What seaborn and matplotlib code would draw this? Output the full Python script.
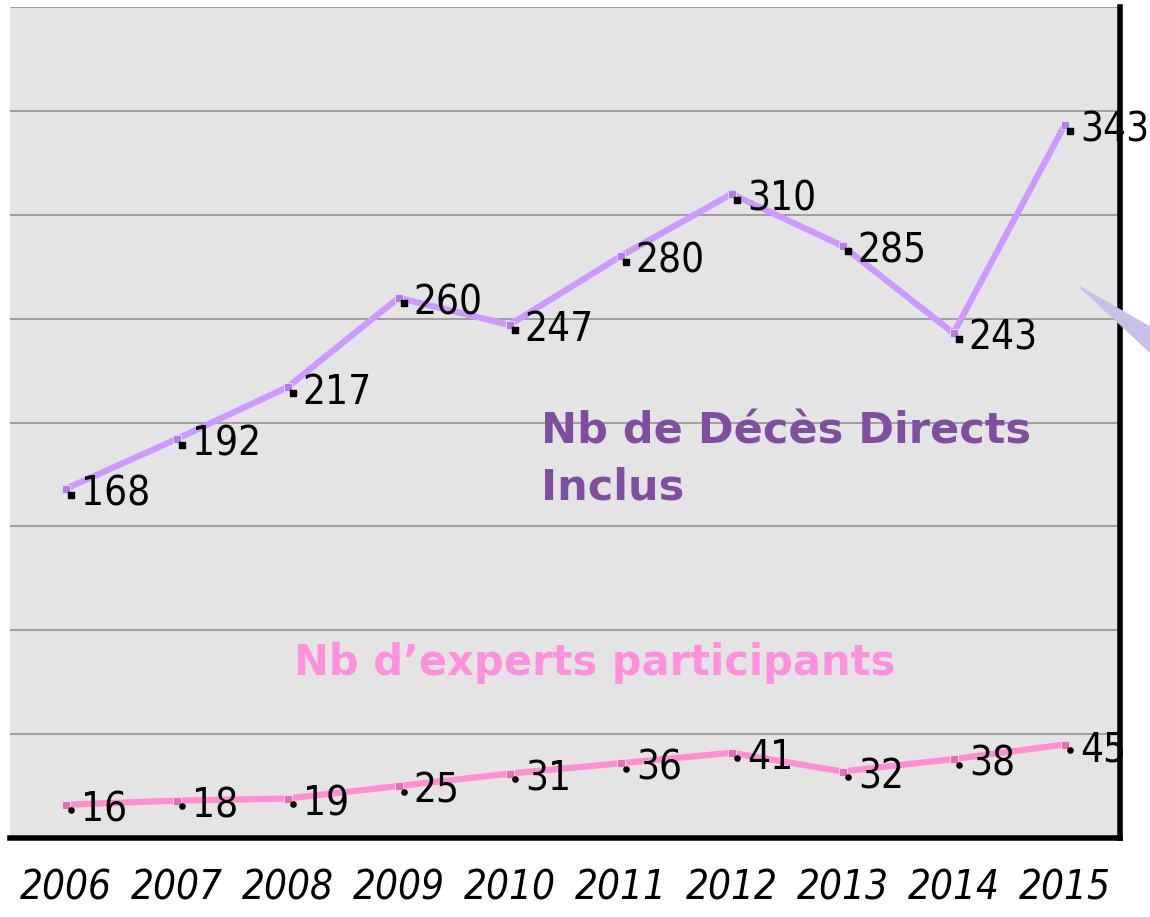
import matplotlib
matplotlib.use("Agg")
import matplotlib.pyplot as plt
import matplotlib.transforms as mtransforms
from matplotlib.patches import Polygon
import seaborn as sns
import pandas as pd

years = [2006, 2007, 2008, 2009, 2010, 2011, 2012, 2013, 2014, 2015]
deces = [168, 192, 217, 260, 247, 280, 310, 285, 243, 343]
experts = [16, 18, 19, 25, 31, 36, 41, 32, 38, 45]

df = pd.DataFrame({"annee": years, "deces": deces, "experts": experts})

sns.set_theme(style="white")
num_font = ["DejaVu Sans"]
plt.rcParams["font.family"] = num_font

fig = plt.figure(figsize=(11.5, 9.17), dpi=100)
ax = fig.add_axes([10 / 1150, 79 / 917, 1110 / 1150, 831 / 917])
ax.set_facecolor("#e4e4e4")

sns.lineplot(data=df, x="annee", y="deces", ax=ax, color="#cc99ff", lw=4.5,
             marker="s", markersize=6, markerfacecolor="#b080e0",
             markeredgecolor="#e8d0ff", zorder=3)
sns.lineplot(data=df, x="annee", y="experts", ax=ax, color="#ff8fd0", lw=4.5,
             marker="s", markersize=6, markerfacecolor="#e070b0",
             markeredgecolor="#ffd0ea", zorder=3)

# little black dots drawn just below-right of each point
shift = ax.transData + mtransforms.ScaledTranslation(4 / 72, -4 / 72, fig.dpi_scale_trans)
ax.scatter(df["annee"], df["deces"], s=14, color="black", marker="s", transform=shift, zorder=4)
ax.scatter(df["annee"], df["experts"], s=14, color="black", marker="o", transform=shift, zorder=4)

num_style = dict(fontsize=29, color="black", family=num_font, fontstretch="condensed")
for x, y in zip(years, deces):
    ax.annotate(str(y), (x, y), xytext=(11, -4), textcoords="offset points",
                ha="left", va="center", annotation_clip=False, zorder=12, **num_style)
for x, y in zip(years, experts):
    ax.annotate(str(y), (x, y), xytext=(11, -4), textcoords="offset points",
                ha="left", va="center", annotation_clip=False, zorder=12, **num_style)

ax.text(2010.28, 206, "Nb de Décès Directs\nInclus", ha="left", va="top",
        fontsize=31, fontweight="bold", color="#7f4f9f", family=["DejaVu Sans"],
        linespacing=1.45, zorder=5)
ax.text(2010.77, 84, "Nb d\u2019experts participants", ha="center", va="center",
        fontsize=30, fontweight="bold", color="#ff90dc", family=["DejaVu Sans"], zorder=5)

ax.set_xlim(2005.5, 2015.5)
ax.set_ylim(0, 400)
ax.set_yticks(range(0, 401, 50))
ax.set_yticklabels([])
ax.set_xticks(years)
ax.set_xticklabels([str(y) for y in years], fontsize=29, style="italic", color="black",
                   family=num_font, fontstretch="condensed")
ax.tick_params(axis="x", length=0, pad=22)
ax.tick_params(axis="y", length=0)
ax.grid(axis="y", color="#999999", lw=1.3)
ax.set_axisbelow(True)
ax.set_xlabel("")
ax.set_ylabel("")
for side in ["left", "top"]:
    ax.spines[side].set_visible(False)
for side in ["right", "bottom"]:
    ax.spines[side].set_color("black")
    ax.spines[side].set_linewidth(4)

# callout tail at the right edge
tail = Polygon([(1080 / 1150, 1 - 287 / 917), (1150 / 1150, 1 - 327 / 917),
                (1150 / 1150, 1 - 352 / 917)], closed=True, transform=fig.transFigure,
               color="#c8c0e8", zorder=10)
fig.patches.append(tail)

fig.savefig("out.png", dpi=100)
